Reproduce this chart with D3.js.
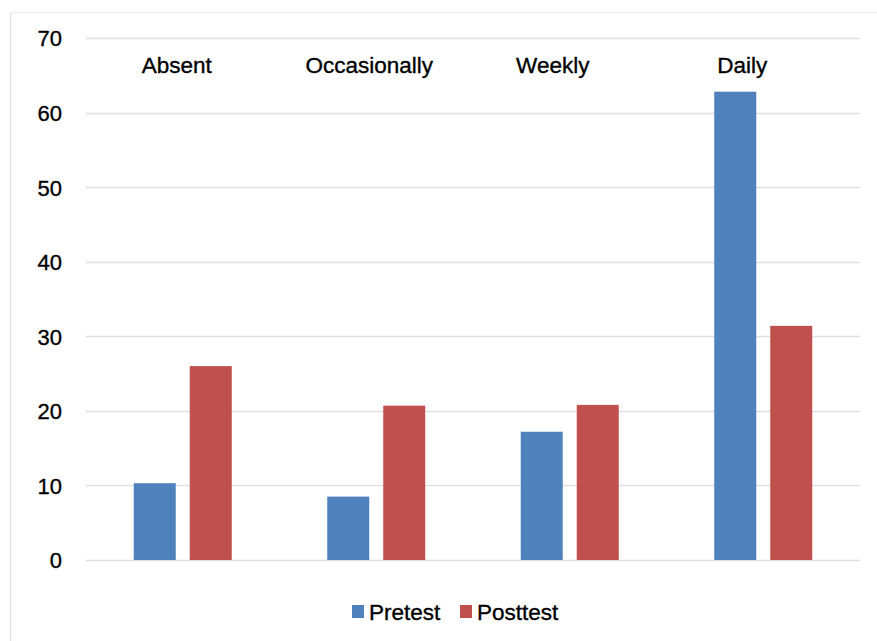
<!DOCTYPE html>
<html>
<head>
<meta charset="utf-8">
<script src="https://cdn.jsdelivr.net/npm/d3@7"></script>
<style>
html,body{margin:0;padding:0;background:#fff;}
svg{display:block;font-family:"Liberation Sans", Arial, sans-serif;}
</style>
</head>
<body>
<svg id="chart" width="877" height="641"></svg>
<script>
const categories = ["Absent", "Occasionally", "Weekly", "Daily"];
const seriesNames = ["Pretest", "Posttest"];
const pretest = [10.3, 8.5, 17.2, 62.8];
const posttest = [26.0, 20.7, 20.8, 31.4];
const yTicks = [0, 10, 20, 30, 40, 50, 60, 70];
const colors = ["#4f81bd", "#c0504d"];

const svg = d3.select("#chart");
const W = 877, H = 641;
const plot = {left: 86, right: 860, top: 38, bottom: 560};

// frame
svg.append("line").attr("x1", 10.5).attr("x2", 10.5).attr("y1", 12).attr("y2", H)
  .attr("stroke", "#e3e3e3").attr("stroke-width", 1.5);
svg.append("line").attr("x1", 10).attr("x2", W).attr("y1", 12.5).attr("y2", 12.5)
  .attr("stroke", "#f0f0f0").attr("stroke-width", 1.5);

const y = d3.scaleLinear().domain([0, 70]).range([plot.bottom, plot.top]);
const x0 = d3.scaleBand().domain(categories).range([plot.left, plot.right])
  .paddingInner(0.4935).paddingOuter(0.4935 / 2);
const x1 = d3.scaleBand().domain(seriesNames).range([0, x0.bandwidth()]).paddingInner(0.25);

// gridlines
svg.append("g").selectAll("line").data(yTicks).join("line")
  .attr("x1", plot.left).attr("x2", plot.right)
  .attr("y1", d => Math.round(y(d)) + 0.5).attr("y2", d => Math.round(y(d)) + 0.5)
  .attr("stroke", "#e0e0e0").attr("stroke-width", 1.5);

// y axis labels via d3 axis
const yAxis = d3.axisLeft(y).tickValues(yTicks).tickSize(0).tickPadding(0);
const ga = svg.append("g").attr("transform", `translate(62,0)`).call(yAxis);
ga.select(".domain").remove();
ga.selectAll("text").attr("font-size", 22).attr("fill", "#000")
  .attr("stroke", "#000").attr("stroke-width", 0.35)
  .attr("font-family", "Liberation Sans, Arial, sans-serif").attr("dy", "0.36em");

// bars
const data = categories.map((c, i) => ({cat: c, vals: [pretest[i], posttest[i]]}));
const groups = svg.append("g").selectAll("g").data(data).join("g")
  .attr("transform", d => `translate(${x0(d.cat)},0)`);
groups.selectAll("rect").data(d => d.vals.map((v, j) => ({name: seriesNames[j], v, j})))
  .join("rect")
  .attr("x", d => x1(d.name)).attr("width", x1.bandwidth())
  .attr("y", d => y(d.v)).attr("height", d => y(0) - y(d.v))
  .attr("fill", d => colors[d.j]);

// category labels at top
svg.append("g").selectAll("text").data(categories).join("text")
  .attr("x", (d, i) => x0(d) + x0.bandwidth() / 2 - [6, 7, 17, 21][i])
  .attr("y", 73)
  .attr("text-anchor", "middle").attr("font-size", 22.5).attr("fill", "#000")
  .attr("stroke", "#000").attr("stroke-width", 0.35)
  .text(d => d);

// legend
const legendX = [352, 460];
const lg = svg.append("g").selectAll("g").data(seriesNames).join("g")
  .attr("transform", (d, i) => `translate(${legendX[i]},605)`);
lg.append("rect").attr("width", 12).attr("height", 13).attr("fill", (d, i) => colors[i]);
lg.append("text").attr("x", 17).attr("y", 15).attr("font-size", 22.5).attr("fill", "#000")
  .attr("stroke", "#000").attr("stroke-width", 0.35).text(d => d);
</script>
</body>
</html>
